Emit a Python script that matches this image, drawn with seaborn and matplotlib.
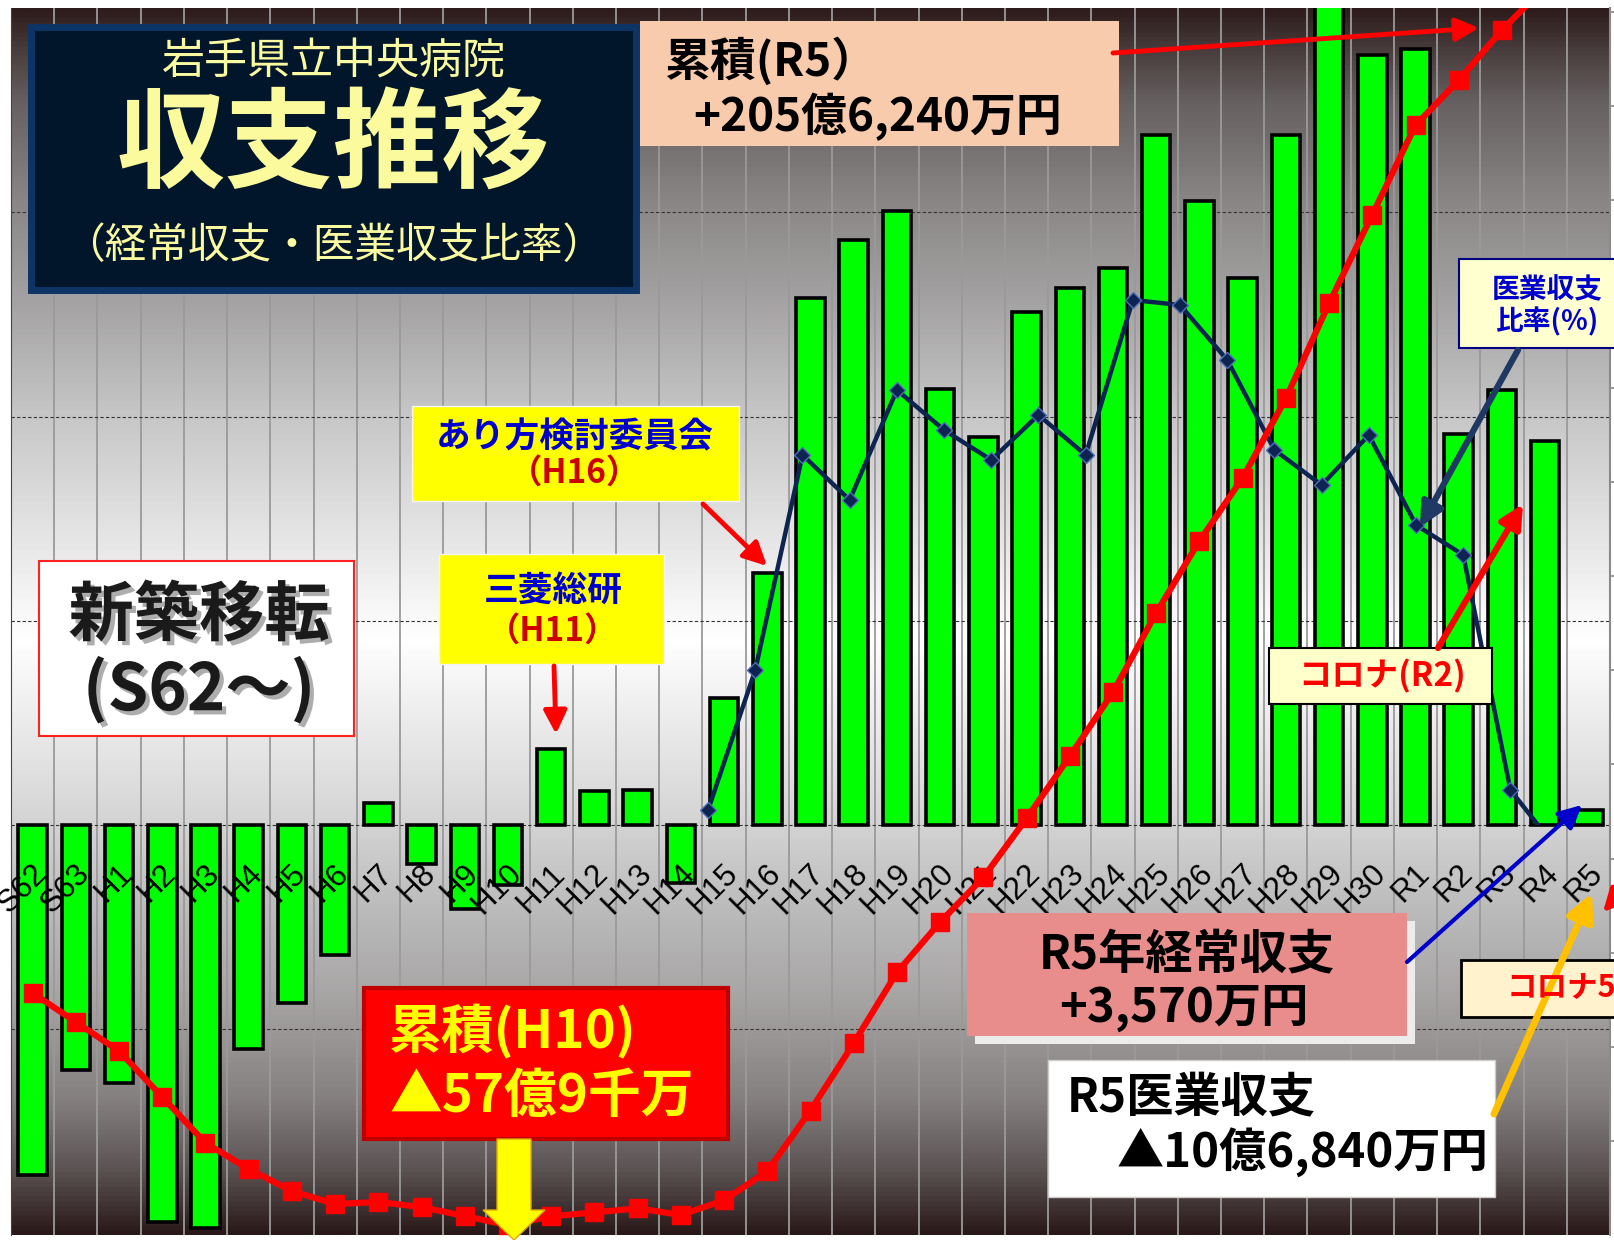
import numpy as np
import pandas as pd
import matplotlib
matplotlib.use("Agg")
import matplotlib.pyplot as plt
import matplotlib.patheffects as pe
from matplotlib.colors import LinearSegmentedColormap
from matplotlib.patches import Rectangle, FancyArrowPatch, Polygon
import seaborn as sns

# 経常収支 (百万円)
years = ['S62', 'S63', 'H1', 'H2', 'H3', 'H4', 'H5', 'H6', 'H7', 'H8',
         'H9', 'H10', 'H11', 'H12', 'H13', 'H14', 'H15', 'H16', 'H17', 'H18',
         'H19', 'H20', 'H21', 'H22', 'H23', 'H24', 'H25', 'H26', 'H27', 'H28',
         'H29', 'H30', 'R1', 'R2', 'R3', 'R4', 'R5']
balance = [-856, -600, -632, -970, -985, -549, -436, -317, 55, -96,
           -204, -146, 186, 83, 86, -141, 312, 617, 1290, 1431,
           1504, 1068, 950, 1257, 1315, 1363, 1688, 1527, 1340, 1690,
           2060, 1884, 1899, 957, 1066, 940, 36]
# 累積 (百万円)
cumulative = [-856, -1472, -2089, -3066, -4044, -4596, -5064, -5340, -5297, -5404,
              -5595, -5790, -5600, -5517, -5431, -5572, -5260, -4643, -3353, -1922,
              -418, 650, 1600, 2857, 4172, 5535, 7223, 8750, 10090, 11780,
              13800, 15684, 17583, 18540, 19606, 20526, 20562]
# 医業収支比率 (%)
ratio_years = ['H15', 'H16', 'H17', 'H18', 'H19', 'H20', 'H21', 'H22', 'H23', 'H24',
               'H25', 'H26', 'H27', 'H28', 'H29', 'H30', 'R1', 'R2', 'R3']
ratio = [90.3, 93.1, 97.4, 96.5, 98.7, 97.9, 97.3, 98.2, 97.4, 100.5,
         100.4, 99.3, 97.5, 96.8, 97.8, 96.0, 95.4, 90.7, 89.5]

sns.set_style('white')
JP = ['Noto Sans CJK JP', 'DejaVu Sans']
plt.rcParams['font.family'] = JP

W, H = 1614, 1240
fig = plt.figure(figsize=(W / 100, H / 100), dpi=100)


def fx(x):
    return x / W


def fy(y):
    return 1 - y / H


rect = [fx(11), fy(1235), fx(1610) - fx(11), (1235 - 8) / H]

# gradient background
stops = [(0.0, '#2a1818'), (0.016, '#3a2c2c'), (0.055, '#5e5656'), (0.11, '#858080'),
         (0.19, '#a6a3a3'), (0.273, '#bebebe'), (0.336, '#d4d4d4'), (0.485, '#ffffff'),
         (0.587, '#e0e0e0'), (0.671, '#c6c6c6'), (0.762, '#a4a2a2'), (0.844, '#8a8686'),
         (0.925, '#666060'), (0.966, '#4a3e3e'), (1.0, '#2e1c1c')]
bg = fig.add_axes(rect, zorder=-1)
bg.imshow(np.linspace(0, 1, 512).reshape(-1, 1), cmap=LinearSegmentedColormap.from_list('bg', stops),
          aspect='auto', origin='lower', extent=[0, 1, 0, 1])
bg.axis('off')

ax = fig.add_axes(rect)
ax.patch.set_alpha(0)
df = pd.DataFrame({'year': years, 'balance': balance})
sns.barplot(data=df, x='year', y='balance', color='#00ff00', saturation=1,
            edgecolor='black', linewidth=2.6, width=0.66, ax=ax, zorder=2)
ax.set_ylim(-1003, 2000)
ax.set_yticks([-500, 0, 500, 1000, 1500])
ax.set_yticklabels([])
ax.tick_params(axis='y', length=0)
ax.grid(axis='y', ls=(0, (3, 2)), color='#333333', lw=0.8)
ax.set_xticks(np.arange(-0.5, 37, 1), minor=True)
ax.grid(axis='x', which='minor', color='#9a9a9a', lw=1.3)
ax.set_axisbelow(True)
ax.set_xticks(range(len(years)))
ax.set_xticklabels([])
ax.tick_params(axis='x', which='both', length=0)
ax.set_xlabel('')
ax.set_ylabel('')
for s in ['top', 'right', 'bottom']:
    ax.spines[s].set_visible(False)
ax.spines['left'].set_color('#444444')
for i, yr in enumerate(years):
    ax.annotate(yr, xy=(i, 0), xytext=(-1, -24), textcoords='offset points',
                rotation=45, ha='right', va='top', rotation_mode='anchor',
                fontsize=22.5, family='Liberation Sans', color='black', zorder=4)

# 医業収支比率 line (separate overlay chart)
ax3 = fig.add_axes([fx(11), fy(825), fx(1610) - fx(11), (825 - 8) / H])
ax3.patch.set_alpha(0)
sns.lineplot(x=np.arange(len(ratio)), y=ratio, ax=ax3, color='#0d2350', linewidth=3.2,
             marker='D', markersize=8, markerfacecolor='#0d2350',
             markeredgecolor='#4f6fb8', markeredgewidth=1)
ax3.set_xlim(-14.77, 19.11)
ax3.set_ylim(90, 106.34)
ax3.axis('off')

# 累積 line
ax2 = ax.twinx()
sns.lineplot(x=np.arange(len(years)), y=cumulative, ax=ax2, color='#ff0000', linewidth=4.5,
             marker='s', markersize=12.5, markeredgecolor='#ff0000', markeredgewidth=1)
ax2.set_ylim(-5998, 20075)
ax2.set_yticks(np.arange(-4000, 20001, 2000))
ax2.set_yticklabels([])
ax2.set_ylabel('')
ax2.tick_params(axis='y', direction='out', length=6, color='#8a8a8a', width=1.2)
for s in ['top', 'left', 'bottom']:
    ax2.spines[s].set_visible(False)
ax2.spines['right'].set_color('#8a8a8a')
ax2.spines['right'].set_linewidth(1.5)
ax.set_xlim(-0.5, 36.5)


def box(x0, y0, x1, y1, fc, ec='none', lw=0, z=5):
    fig.add_artist(Rectangle((fx(x0), fy(y1)), fx(x1) - fx(x0), (y1 - y0) / H,
                             transform=fig.transFigure, facecolor=fc, edgecolor=ec,
                             lw=lw, zorder=z))


def text(x, y, s, size, color, weight='bold', ha='center', **kw):
    fig.text(fx(x), fy(y), s, fontsize=size, color=color, weight=weight, ha=ha,
             va='center', family=JP, zorder=7, **kw)


def arrow(x0, y0, x1, y1, color, lw, ms=35, z=6):
    fig.add_artist(FancyArrowPatch((fx(x0), fy(y0)), (fx(x1), fy(y1)),
                                   transform=fig.transFigure, arrowstyle='-|>',
                                   mutation_scale=ms, color=color, lw=lw,
                                   shrinkA=0, shrinkB=0, zorder=z))


# title
box(31, 27, 636, 290, '#02162b', ec='#0c3566', lw=5)
text(334, 63, '岩手県立中央病院', 31, '#fafaa0', weight='normal')
text(333, 148, '収支推移', 78, '#fbfb9e')
text(334, 247, '（経常収支・医業収支比率）', 30, '#fafaa0', weight='normal')

# 累積 R5
box(640, 21, 1119, 146, '#f8cbad')
text(664, 62, '累積(R5）', 33, 'black', ha='left')
text(693, 117, '+205億6,240万円', 33, 'black', ha='left')
arrow(1113, 53, 1479, 28, '#ff0000', 3.5)

# あり方検討委員会
box(412, 406, 739, 501, '#ffff00', ec='#f4f4f4', lw=1)
text(575, 437, 'あり方検討委員会', 25, '#0000cc')
text(575, 473, '（H16）', 24, '#cc0000')
arrow(703, 504, 767, 566, '#ff0000', 3.5)

# 三菱総研
box(439, 554, 664, 664, '#ffff00', ec='#f4f4f4', lw=1)
text(553, 590, '三菱総研', 25, '#0000cc')
text(553, 631, '（H11）', 24, '#cc0000')
arrow(554, 666, 556, 734, '#ff0000', 3.5)

# 新築移転
shadow = [pe.withSimplePatchShadow(offset=(3, -3), shadow_rgbFace='#777777', alpha=0.6)]
box(39, 561, 354, 736, 'white', ec='#ff2020', lw=1.5)
text(199, 616, '新築移転', 47, '#1a1a1a', path_effects=shadow)
text(199, 690, '(S62～)', 47, '#1a1a1a', path_effects=shadow)

# 累積 H10
box(364, 988, 728, 1139, '#ff0000', ec='#c00000', lw=3)
text(389, 1032, '累積(H10)', 38, '#ffff00', ha='left')
text(389, 1096, '▲57億9千万', 38, '#ffff00', ha='left')
fig.add_artist(Polygon([(fx(497), fy(1139)), (fx(531), fy(1139)), (fx(531), fy(1210)),
                        (fx(545), fy(1210)), (fx(514), fy(1240)), (fx(483), fy(1210)),
                        (fx(497), fy(1210))], closed=True, transform=fig.transFigure,
                       facecolor='#ffff00', edgecolor='#e0a800', lw=1, zorder=6))

# R5 経常収支
box(975, 921, 1415, 1044, '#ececec', z=4)
box(967, 913, 1407, 1036, '#e88c8c')
text(1187, 954, 'R5年経常収支', 34, 'black')
text(1184, 1008, '+3,570万円', 34, 'black')
arrow(1407, 962, 1582, 805, '#0000cc', 3)

# R5 医業収支
box(1048, 1060, 1495, 1197, 'white', ec='#cccccc', lw=1)
text(1067, 1097, 'R5医業収支', 34, 'black', ha='left')
text(1117, 1152, '▲10億6,840万円', 34, 'black', ha='left')
arrow(1494, 1114, 1592, 893, '#ffc000', 5, ms=40)

# コロナ5 (cut off)
box(1461, 960, 1630, 1017, '#fff2cc', ec='black', lw=2)
text(1507, 988, 'コロナ5', 22, '#ff0000', ha='left')
arrow(1660, 850, 1603, 912, '#ff0000', 3.5)

# コロナ(R2)
arrow(1438, 648, 1523, 504, '#ff0000', 4.5)
box(1269, 648, 1492, 704, '#ffffcc', ec='black', lw=1.5)
text(1382, 676, 'コロナ(R2)', 24, '#ff0000')

# 医業収支比率
box(1459, 259, 1630, 348, '#ffffd0', ec='#000080', lw=1.5)
text(1547, 290, '医業収支', 20, '#0000cc')
text(1547, 322, '比率(%)', 20, '#0000cc')
arrow(1518, 350, 1420, 527, '#1f3864', 4.5)

fig.savefig('out.png', dpi=100)
